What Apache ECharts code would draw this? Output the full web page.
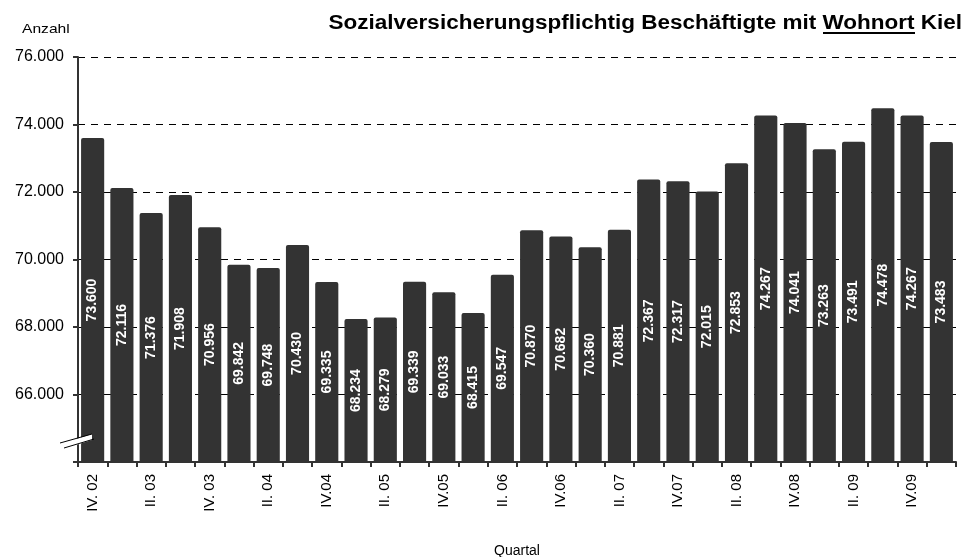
<!DOCTYPE html>
<html><head><meta charset="utf-8">
<script src="https://cdn.jsdelivr.net/npm/echarts@6/dist/echarts.min.js"></script>
<style>html,body{margin:0;padding:0;background:#fff;overflow:hidden}#c{width:969px;height:557px}</style>
</head><body><div id="c"></div>
<script>
const categories = ['IV. 02','I.03','II. 03','III.03','IV. 03','I.04','II. 04','III.04','IV.04','I.05','II. 05','III.05','IV.05','I.06','II. 06','III.06','IV.06','I.07','II. 07','III.07','IV.07','I.08','II. 08','III.08','IV.08','I.09','II. 09','III.09','IV.09','I.10'];
const values = [73600,72116,71376,71908,70956,69842,69748,70430,69335,68234,68279,69339,69033,68415,69547,70870,70682,70360,70881,72367,72317,72015,72853,74267,74041,73263,73491,74478,74267,73483];
const yTicks = [64000,66000,68000,70000,72000,74000,76000];
const titleText = 'Sozialversicherungspflichtig Beschäftigte mit ';
const titleUnder = 'Wohnort';
const titleEnd = ' Kiel';

function fmt(v){ return String(v).replace(/\B(?=(\d{3})+(?!\d))/g,'.'); }

const chart = echarts.init(document.getElementById('c'), null, {renderer:'canvas'});
const font = 'Liberation Sans, Arial, sans-serif';
chart.setOption({
  animation:false,
  backgroundColor:'#fff',
  textStyle:{fontFamily:font},
  graphic:[
    {type:'text', x:22, y:29, scaleX:1.2, style:{text:'Anzahl', font:'13px '+font, fill:'#000', textAlign:'left', textVerticalAlign:'middle'}},
    {type:'text', x:962, y:23, scaleX:1.125, style:{text:titleText+titleUnder+titleEnd, font:'bold 20px '+font, fill:'#000', textAlign:'right', textVerticalAlign:'middle'}},
    {type:'line', shape:{x1:823,y1:33,x2:915,y2:33}, style:{stroke:'#000',lineWidth:2}, z:100},
    {type:'polygon', shape:{points:[[60,444],[92,434],[92,440],[60,450]]}, style:{fill:'#fff'}, z:100},
    {type:'line', shape:{x1:60,y1:443,x2:92,y2:434}, style:{stroke:'#000',lineWidth:1}, z:101},
    {type:'line', shape:{x1:64,y1:448,x2:94,y2:439}, style:{stroke:'#000',lineWidth:1}, z:101}
  ],
  grid:{left:78, right:13, top:57, bottom:95, containLabel:false, outerBoundsMode:'none'},
  xAxis:{
    type:'category', data:categories,
    name:'Quartal', nameLocation:'middle', nameGap:82,
    nameTextStyle:{fontSize:14, color:'#000'},
    axisLine:{lineStyle:{color:'#333', width:2}},
    axisTick:{show:true, interval:0, alignWithLabel:false, length:5, lineStyle:{color:'#333', width:2}},
    axisLabel:{interval:1, rotate:90, fontSize:15, color:'#000', margin:12}
  },
  yAxis:{
    type:'value', min:yTicks[0], max:yTicks[yTicks.length-1], interval:2000,
    axisLine:{show:true, lineStyle:{color:'#333', width:2}},
    axisTick:{show:true, length:5, lineStyle:{color:'#333', width:2}},
    axisLabel:{fontSize:16, color:'#000', margin:14, formatter:v=> v===yTicks[0] ? '' : fmt(v)},
    splitLine:{show:true, lineStyle:{color:'#000', type:[7,6], width:1}}
  },
  series:[{
    type:'bar', data:values, barCategoryGap:'21%',
    itemStyle:{color:'#333333', borderRadius:[2,2,0,0]},
    label:{show:true, position:'inside', rotate:90, color:'#fff', fontWeight:'bold', fontSize:14,
      formatter:p=>fmt(p.value)}
  }]
});
</script></body></html>
